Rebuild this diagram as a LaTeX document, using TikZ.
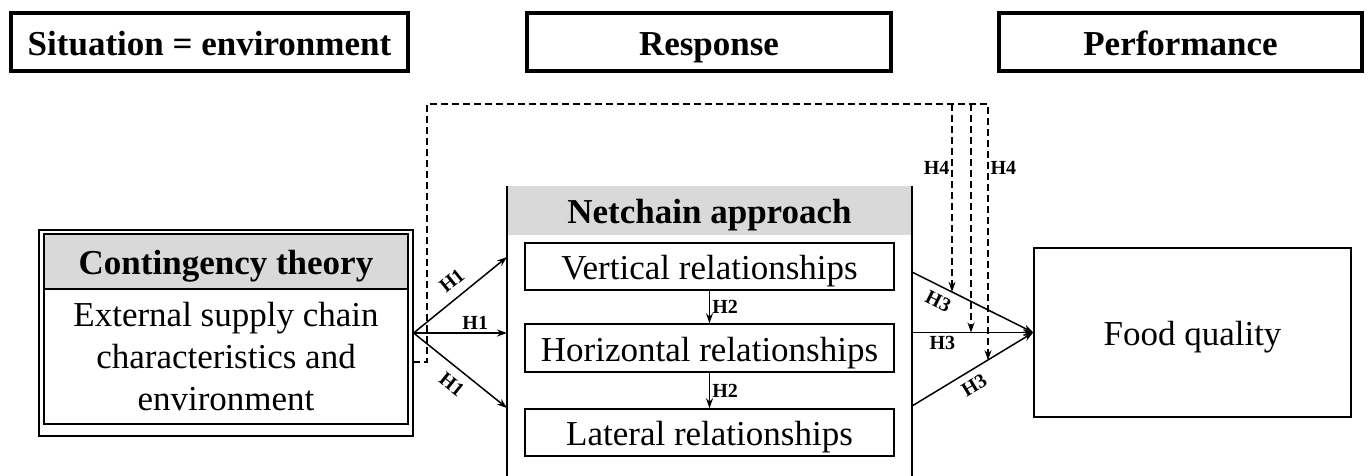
\documentclass[tikz,border=0pt]{standalone}
\usepackage{fontspec}
\setmainfont{Liberation Serif}
\usetikzlibrary{arrows.meta}
\definecolor{headgrey}{RGB}{217,217,217}

\begin{document}
\begin{tikzpicture}[x=1pt, y=-1pt,
  >={Stealth[length=10pt,width=7pt]},
  topbox/.style={draw, line width=3.5pt, minimum height=58pt, inner sep=0pt, text height=28pt, text depth=2pt, font=\fontsize{35}{42}\selectfont\bfseries},
  plainbox/.style={draw, line width=1.5pt, inner sep=0pt, text height=28pt, text depth=2pt, font=\fontsize{35}{42}\selectfont},
  greyhead/.style={fill=headgrey, inner sep=0pt, text height=28pt, text depth=2pt, font=\fontsize{35}{42}\selectfont\bfseries},
  hlabel/.style={inner sep=2pt, font=\fontsize{20}{20}\selectfont\bfseries},
  link/.style={->, line width=1.5pt},
  dlink/.style={->, line width=1.2pt, dash pattern=on 7pt off 4pt}]
  \useasboundingbox (0,0) rectangle (1370,475);

  % headings
  \node[topbox, minimum width=397pt] (sit) at (209.5,42) {Situation = environment};
  \node[topbox, minimum width=364pt] (resp) at (709,42) {Response};
  \node[topbox, minimum width=363pt] (perf) at (1180.5,42) {Performance};

  % contingency theory
  \node[draw, line width=1.2pt, minimum width=374pt, minimum height=206pt] (ctout) at (226,333) {};
  \node[greyhead, draw, line width=1.5pt, minimum width=364pt, minimum height=55pt] (cthead) at (226,261.5) {Contingency theory};
  \node[draw, line width=1.5pt, inner sep=0pt, minimum width=364pt, minimum height=135pt, align=center,
    font=\fontsize{35}{42}\selectfont] (ctbody) at (226,356.5)
    {External supply chain\\characteristics and\\environment};

  % netchain approach
  \node[greyhead, minimum width=405pt, minimum height=49pt] (nchead) at (709.5,210.5) {Netchain approach};
  \draw[line width=1.5pt] (nchead.north west) -- ++(0,300);
  \draw[line width=1.5pt] (nchead.north east) -- ++(0,300);
  \node[plainbox, minimum width=369pt, minimum height=47pt] (vert) at (709.5,266.5) {Vertical relationships};
  \node[plainbox, minimum width=369pt, minimum height=48pt] (horiz) at (709.5,348) {Horizontal relationships};
  \node[plainbox, minimum width=369pt, minimum height=47pt] (lat) at (709.5,432.5) {Lateral relationships};

  % performance
  \node[plainbox, minimum width=317pt, minimum height=169pt] (food) at (1192.5,332.5) {Food quality};

  % H1
  \coordinate (h1a) at (507,257);
  \coordinate (h1b) at (507,333);
  \coordinate (h1c) at (507,408);
  \draw[link] (ctout.east) -- node[hlabel, sloped, above=7pt, pos=0.52] {H1} (h1a);
  \draw[link] (ctout.east) -- node[hlabel, above=1pt, pos=0.66] {H1} (h1b);
  \draw[link] (ctout.east) -- node[hlabel, sloped, below=7pt, pos=0.52] {H1} (h1c);

  % H2
  \draw[link] (vert) -- node[hlabel, right] {H2} (horiz);
  \draw[link] (horiz) -- node[hlabel, right] {H2} (lat);

  % H3
  \coordinate (h3a) at (912,272);
  \coordinate (h3b) at (912,332.5);
  \coordinate (h3c) at (912,406);
  \draw[link] (h3a) -- node[hlabel, sloped, below=5pt, pos=0.27] {H3} (food.west);
  \draw[link] (h3b) -- node[hlabel, below=1pt, pos=0.25] {H3} (food.west);
  \draw[link] (h3c) -- node[hlabel, sloped, below=5pt, pos=0.45] {H3} (food.west);

  % H4 (moderation)
  \coordinate (m0) at (413,362);
  \coordinate (m1) at (427,104);
  \coordinate (m2) at (988,104);
  \coordinate (t1) at (952,291.8);
  \coordinate (t2) at (971,332.5);
  \coordinate (t3) at (988,360.2);
  \draw[dlink] (m0) -| (m1) -- (m2) -- node[hlabel, right, pos=0.25] {H4} (t3);
  \draw[dlink] (t1 |- m1) -- node[hlabel, left, pos=0.34] {H4} (t1);
  \draw[dlink] (t2 |- m1) -- (t2);
\end{tikzpicture}
\end{document}
